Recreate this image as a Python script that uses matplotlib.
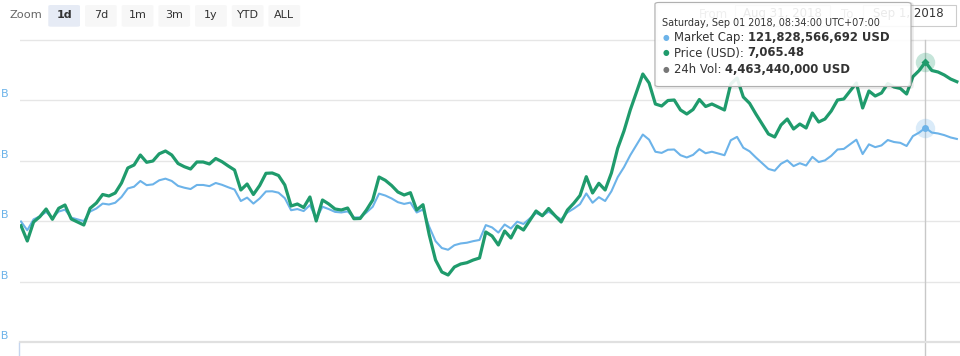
import numpy as np
import pandas as pd
import matplotlib
matplotlib.use('Agg')
import matplotlib.pyplot as plt
from matplotlib.patches import FancyBboxPatch, Rectangle
from matplotlib.lines import Line2D
from matplotlib import transforms as mtransforms

# 10-minute samples, Aug 31 2018 08:34 -> Sep 01 2018 09:24 (UTC+07:00)
start = '2018-08-31 08:34'

price_usd = [
    7000.02, 6993.90, 7001.50, 7003.62, 7006.70, 7002.58, 7006.98, 7008.30, 7002.70, 7001.50,
    7000.30, 7006.98, 7009.10, 7012.50, 7011.90, 7013.10, 7017.10, 7023.10, 7024.30, 7028.30,
    7025.38, 7025.90, 7028.78, 7029.90, 7028.30, 7024.90, 7023.62, 7022.70, 7025.50, 7025.50,
    7024.70, 7026.90, 7025.62, 7023.90, 7022.30, 7014.30, 7016.70, 7012.50, 7016.10, 7020.98,
    7021.10, 7020.10, 7016.30, 7007.90, 7008.70, 7007.30, 7011.50, 7001.90, 7010.30, 7008.70,
    7006.70, 7006.30, 7007.10, 7002.82, 7002.90, 7006.30, 7010.30, 7019.50, 7018.18, 7016.10,
    7013.50, 7012.30, 7013.22, 7006.30, 7008.42, 6996.30, 6986.30, 6981.50, 6980.30, 6983.50,
    6984.70, 6985.22, 6986.30, 6987.10, 6997.50, 6995.90, 6992.30, 6997.90, 6995.10, 6999.90,
    6998.30, 7002.10, 7005.90, 7003.98, 7006.90, 7004.10, 7001.50, 7006.30, 7008.98, 7012.10,
    7019.62, 7013.10, 7016.98, 7014.30, 7021.10, 7030.98, 7037.90, 7046.30, 7053.50, 7060.70,
    7057.10, 7048.70, 7047.90, 7050.10, 7050.30, 7046.30, 7044.70, 7046.50, 7050.50, 7047.70,
    7048.70, 7047.50, 7046.30, 7056.70, 7059.10, 7051.50, 7048.98, 7044.70, 7040.70, 7036.70,
    7035.50, 7040.30, 7042.70, 7038.70, 7040.70, 7039.10, 7045.10, 7041.50, 7042.70, 7045.90,
    7050.30, 7050.70, 7053.90, 7057.10, 7047.10, 7053.90, 7051.90, 7053.10, 7056.90, 7055.50,
    7054.90, 7052.70, 7059.62, 7062.10, 7065.48, 7062.10, 7061.50, 7060.30, 7058.70, 7057.62,
]

# market cap, billions of USD
market_cap_b = [
    120.701, 120.596, 120.727, 120.763, 120.817, 120.745, 120.821, 120.844, 120.748, 120.727,
    120.706, 120.821, 120.858, 120.917, 120.906, 120.927, 120.996, 121.099, 121.120, 121.189,
    121.139, 121.148, 121.197, 121.217, 121.189, 121.130, 121.108, 121.092, 121.141, 121.141,
    121.127, 121.165, 121.143, 121.113, 121.086, 120.948, 120.989, 120.917, 120.979, 121.063,
    121.065, 121.048, 120.982, 120.837, 120.851, 120.827, 120.899, 120.734, 120.879, 120.851,
    120.817, 120.810, 120.823, 120.750, 120.751, 120.810, 120.879, 121.037, 121.014, 120.979,
    120.934, 120.913, 120.929, 120.810, 120.846, 120.637, 120.465, 120.382, 120.361, 120.416,
    120.437, 120.446, 120.465, 120.479, 120.658, 120.630, 120.568, 120.665, 120.617, 120.699,
    120.672, 120.737, 120.803, 120.770, 120.820, 120.772, 120.727, 120.810, 120.856, 120.910,
    121.039, 120.927, 120.994, 120.948, 121.065, 121.235, 121.355, 121.499, 121.623, 121.748,
    121.686, 121.541, 121.527, 121.565, 121.568, 121.499, 121.472, 121.503, 121.572, 121.523,
    121.541, 121.520, 121.499, 121.679, 121.720, 121.589, 121.546, 121.472, 121.403, 121.334,
    121.313, 121.396, 121.437, 121.368, 121.403, 121.375, 121.479, 121.417, 121.437, 121.492,
    121.568, 121.575, 121.630, 121.686, 121.513, 121.630, 121.596, 121.617, 121.682, 121.658,
    121.648, 121.610, 121.729, 121.772, 121.829, 121.772, 121.761, 121.741, 121.713, 121.695,
]

hover_time = '2018-09-01 08:34'
hover_header = 'Saturday, Sep 01 2018, 08:34:00 UTC+07:00'
hover_mc = 121828566692
hover_price = 7065.48
hover_vol = 4463440000

zoom_buttons = ['1d', '7d', '1m', '3m', '1y', 'YTD', 'ALL']
range_from = 'Aug 31, 2018'
range_to = 'Sep 1, 2018'

BLUE = '#6cb3e9'
GREEN = '#1f9b6c'
GRID = '#e6e6e6'

W, H = 960, 356
fx = lambda x: x / W
fy = lambda y: 1 - y / H

times = pd.date_range(start, periods=len(price_usd), freq='10min')
t0 = pd.Timestamp(start)

fig = plt.figure(figsize=(W / 100, H / 100), dpi=100)
ax = fig.add_axes([fx(20), fy(342), 940 / W, 306 / H])
ax2 = ax.twinx()

ax.set_xlim(t0 - pd.Timedelta(minutes=1.6), t0 + pd.Timedelta(minutes=1495))
ax.set_ylim(119.251, 122.934)
ax2.set_ylim(6953.5, 7075.9)

mc_ticks = np.linspace(119.251, 122.886, 6)
ax.set_yticks(mc_ticks)
ax.set_yticklabels(['%.1fB' % v for v in mc_ticks[:-1]] + [''])
ax.yaxis.grid(True, color=GRID, lw=1)
ax.tick_params(axis='y', length=0, pad=7.6, labelsize=8, labelcolor=BLUE)
for lbl in ax.get_yticklabels():
    lbl.set_transform(lbl.get_transform() +
                      mtransforms.ScaledTranslation(0, 0.07, fig.dpi_scale_trans))
ax.set_xticks([])
ax2.set_yticks([])
for a in (ax, ax2):
    for s in ('top', 'left', 'right'):
        a.spines[s].set_visible(False)
    a.spines['bottom'].set_color('#e0e0e0')
    a.spines['bottom'].set_linewidth(1.5)

ax.plot(times, market_cap_b, color=BLUE, lw=1.5, solid_joinstyle='round')
ax2.plot(times, price_usd, color=GREEN, lw=2.3, solid_joinstyle='round')

# crosshair + hover markers
ht = pd.Timestamp(hover_time)
hi = list(times).index(ht)
ax.axvline(ht, ymin=-14 / 306, ymax=302 / 306, color='#c8c8c8', lw=1, clip_on=False)
ax.plot([ht], [market_cap_b[hi]], 'o', ms=14, color=BLUE, alpha=0.25, mec='none')
ax.plot([ht], [market_cap_b[hi]], 'o', ms=5, color=BLUE, mec='none')
ax2.plot([ht], [price_usd[hi]], 'o', ms=14, color=GREEN, alpha=0.25, mec='none')
ax2.plot([ht], [price_usd[hi]], 'D', ms=4, color=GREEN, mec='none')

# navigator edge
fig.add_artist(Line2D([fx(18.5), fx(18.5)], [fy(343), fy(356)], color='#c5d5ee', lw=1))

# range selector
fig.text(fx(10), fy(15.5), 'Zoom', fontsize=8.2, color='#666666', va='center')
for k, lab in enumerate(zoom_buttons):
    x0 = 48.3 + 36.7 * k
    sel = k == 0
    fig.add_artist(FancyBboxPatch((fx(x0), fy(26.7)), 31.7 / W, 21.7 / H,
                                  boxstyle='round,pad=0,rounding_size=0.003',
                                  fc='#e6ebf5' if sel else '#f7f7f7', ec='none'))
    fig.text(fx(x0 + 15.8), fy(15.5), lab, fontsize=8, color='#333333',
             ha='center', va='center', fontweight='bold' if sel else 'normal')

# date inputs (partly behind tooltip)
fig.text(fx(699), fy(14), 'From', fontsize=8.5, color='#666666', va='center', zorder=3)
fig.add_artist(Rectangle((fx(735), fy(26)), 95 / W, 21 / H, fc='white', ec='#cccccc',
                         lw=0.8, zorder=2))
fig.text(fx(782), fy(14), range_from, fontsize=8.5, color='#333333', ha='center',
         va='center', zorder=3)
fig.text(fx(841), fy(14), 'To', fontsize=8.5, color='#666666', va='center', zorder=3)
fig.add_artist(Rectangle((fx(863), fy(26)), 93 / W, 21 / H, fc='white', ec='#cccccc',
                         lw=0.8, zorder=2))
fig.text(fx(944), fy(14), range_to, fontsize=8.5, color='#333333', ha='right',
         va='center', zorder=3)

# tooltip
fig.add_artist(FancyBboxPatch((fx(656), fy(87.5)), 256 / W, 84 / H,
                              boxstyle='round,pad=0,rounding_size=0.004',
                              fc='none', ec='black', lw=2.5, alpha=0.08, zorder=9))
fig.add_artist(FancyBboxPatch((fx(655), fy(86.5)), 256 / W, 84 / H,
                              boxstyle='round,pad=0,rounding_size=0.004',
                              fc=(1, 1, 1, 0.9), ec='#b0b0b0', lw=0.8, zorder=10))
fig.text(fx(662), fy(22.7), hover_header, fontsize=6.9, color='#333333', va='center',
         zorder=11)

rows = [
    (BLUE, 'Market Cap: ', '{:,} USD'.format(hover_mc), 37.5),
    (GREEN, 'Price (USD): ', '{:,.2f}'.format(hover_price), 53),
    ('#777777', '24h Vol: ', '{:,} USD'.format(hover_vol), 69.5),
]
renderer = fig.canvas.get_renderer()
for col, lab, val, yy in rows:
    fig.text(fx(666), fy(yy), '\u25cf', fontsize=5.5, color=col, ha='center',
             va='center', zorder=11)
    t = fig.text(fx(674), fy(yy), lab, fontsize=8.4, color='#333333', va='center',
                 zorder=11)
    bb = t.get_window_extent(renderer)
    fig.text(bb.x1 / W, fy(yy), val, fontsize=8.4, color='#333333', va='center',
             fontweight='bold', zorder=11)

fig.savefig('out.png', dpi=100)
